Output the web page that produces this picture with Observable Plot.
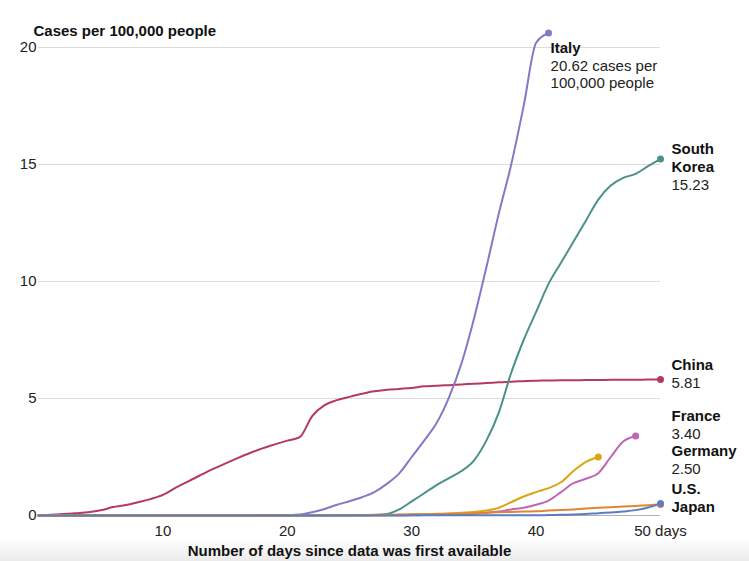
<!DOCTYPE html>
<html><head><meta charset="utf-8">
<script src="https://cdn.jsdelivr.net/npm/d3@7"></script>
<script src="https://cdn.jsdelivr.net/npm/@observablehq/plot@0.6"></script>
<style>
body{margin:0;background:#fff;}
#chart svg{display:block;}
</style></head><body><div id="chart"></div>
<script>
// ---- data (index = day since data first available) ----
const chinaValues = [0.02,0.03,0.06,0.1,0.14,0.22,0.36,0.45,0.57,0.7,0.88,1.18,1.45,1.72,1.98,2.22,2.45,2.67,2.87,3.04,3.2,3.35,4.25,4.72,4.93,5.07,5.2,5.31,5.37,5.41,5.45,5.52,5.54,5.57,5.6,5.63,5.66,5.69,5.72,5.74,5.76,5.77,5.78,5.78,5.79,5.79,5.8,5.8,5.8,5.81,5.81];
const italyValues = [0,0,0,0,0,0,0,0,0,0,0,0,0,0,0,0,0,0,0,0,0.01,0.04,0.14,0.28,0.46,0.61,0.78,1.0,1.35,1.8,2.5,3.2,3.95,5.05,6.5,8.4,10.6,12.9,15.0,17.5,20.2,20.62];
const southKoreaValues = [0,0,0,0,0,0,0,0,0,0,0,0,0,0,0,0,0,0,0,0,0,0,0,0,0,0,0.01,0.02,0.06,0.26,0.6,0.95,1.3,1.6,1.9,2.35,3.2,4.4,6.1,7.5,8.7,9.9,10.8,11.7,12.6,13.5,14.1,14.43,14.6,14.93,15.23];
const franceValues = [0,0,0,0,0,0,0,0,0,0,0,0,0,0,0,0,0,0,0,0,0.01,0.01,0.01,0.01,0.01,0.01,0.01,0.01,0.01,0.01,0.01,0.02,0.03,0.04,0.05,0.08,0.12,0.17,0.26,0.33,0.46,0.64,1.0,1.38,1.57,1.81,2.5,3.16,3.40];
const germanyValues = [0,0,0,0,0,0,0,0,0,0,0,0,0,0,0,0,0,0,0,0,0.01,0.01,0.01,0.01,0.01,0.01,0.01,0.01,0.02,0.03,0.04,0.05,0.07,0.09,0.12,0.15,0.21,0.33,0.57,0.81,1.0,1.17,1.42,1.9,2.29,2.50];
const japanValues = [0,0,0,0,0,0,0,0,0,0,0,0,0,0,0,0,0,0,0.01,0.01,0.01,0.01,0.01,0.01,0.02,0.02,0.02,0.03,0.03,0.04,0.05,0.05,0.06,0.07,0.08,0.1,0.12,0.14,0.15,0.17,0.18,0.21,0.23,0.26,0.3,0.33,0.35,0.38,0.41,0.44,0.47];
const usValues = [0,0,0,0,0,0,0,0,0,0,0,0,0,0,0,0,0,0,0,0,0,0,0,0,0,0,0,0,0,0,0.01,0.01,0.01,0.01,0.01,0.01,0.01,0.01,0.01,0.01,0.01,0.02,0.03,0.04,0.06,0.1,0.13,0.17,0.23,0.34,0.51];

const countries = ["China","Italy","South Korea","France","Germany","Japan","U.S."];
const seriesValues = [chinaValues, italyValues, southKoreaValues, franceValues, germanyValues, japanValues, usValues];
const yTicks = [0,5,10,15,20];
const xTicks = [10,20,30,40,50];

// ---- style ----
const colors = {"China":"#b43a5e","Italy":"#8479c8","South Korea":"#4a918b","France":"#c264b4","Germany":"#dba514","Japan":"#e08437","U.S.":"#5a7fc0"};
const nameText = {"South Korea":"South\nKorea"};
const labelLayout = {
  "Italy":      {atEnd:true, dx:2, nameDy:14, valueDy:41, suffix:" cases per\n100,000 people"},
  "South Korea":{dx:11, nameDy:-2, valueDy:25},
  "China":      {dx:11, nameDy:-15, valueDy:3},
  "France":     {dx:11, nameDy:-21, valueDy:-3},
  "Germany":    {dx:11, nameDy:-6.5, valueDy:11.5},
  "U.S.":       {dx:11, nameDy:-15},
  "Japan":      {dx:11, nameDy:2}
};

const rows = countries.flatMap((c, i) => seriesValues[i].map((v, day) => ({country: c, day, value: v})));
const ends = countries.map((c, i) => { const vals = seriesValues[i]; return {country: c, day: vals.length - 1, value: vals[vals.length - 1]}; });
const xMax = d3.max(ends, d => d.day);

const font = "'Liberation Sans', Arial, sans-serif";
const labelMarks = ends.flatMap(e => {
  const L = labelLayout[e.country];
  const x = L.atEnd ? e.day : xMax;
  const marks = [Plot.text([e], {x: () => x, y: "value", text: d => nameText[d.country] || d.country,
    dx: L.dx, dy: L.nameDy, textAnchor: "start", lineAnchor: "middle", fontWeight: "bold", fontSize: 15, lineHeight: 1.17, fill: "#111"})];
  if (L.valueDy !== undefined) {
    marks.push(Plot.text([e], {x: () => x, y: "value", text: d => d3.format(".2f")(d.value) + (L.suffix || ""),
      dx: L.dx, dy: L.valueDy, textAnchor: "start", lineAnchor: "middle", fontSize: 15, lineHeight: 1.17, fill: "#222"}));
  }
  return marks;
});

const chart = Plot.plot({
  width: 749, height: 561,
  marginTop: 47, marginBottom: 46, marginLeft: 38, marginRight: 89,
  style: {fontFamily: font, fontSize: "15px", color: "#222", background: "linear-gradient(to bottom, #ffffff 0px, #ffffff 538px, #ebebeb 561px)"},
  x: {domain: [0, 50]},
  y: {domain: [0, 20]},
  marks: [
    Plot.gridY(yTicks.filter(t => t > 0), {stroke: "#dcdcdc", strokeOpacity: 1}),
    Plot.ruleY([0], {stroke: "#b0b0b0"}),
    Plot.axisY(yTicks, {tickSize: 0, tickPadding: 2, label: null, fontSize: 15, fill: "#222"}),
    Plot.axisX(xTicks, {tickSize: 0, tickPadding: 10, label: null, fontSize: 15, fill: "#222",
      tickFormat: d => d === 50 ? "50 days" : String(d)}),
    Plot.lineY(rows, {x: "day", y: "value", z: "country", stroke: d => colors[d.country], strokeWidth: 2, curve: "monotone-x"}),
    Plot.dot(ends, {x: "day", y: "value", fill: d => colors[d.country], r: 3.5}),
    Plot.text(["Cases per 100,000 people"], {frameAnchor: "top-left", text: d => d, dx: -5, dy: -16, textAnchor: "start", lineAnchor: "middle", fontWeight: "bold", fontSize: 15, fill: "#111"}),
    Plot.text(["Number of days since data was first available"], {frameAnchor: "bottom", text: d => d, dy: 36, lineAnchor: "middle", fontWeight: "bold", fontSize: 15, fill: "#111"}),
    ...labelMarks
  ]
});
document.getElementById("chart").appendChild(chart);
</script></body></html>
